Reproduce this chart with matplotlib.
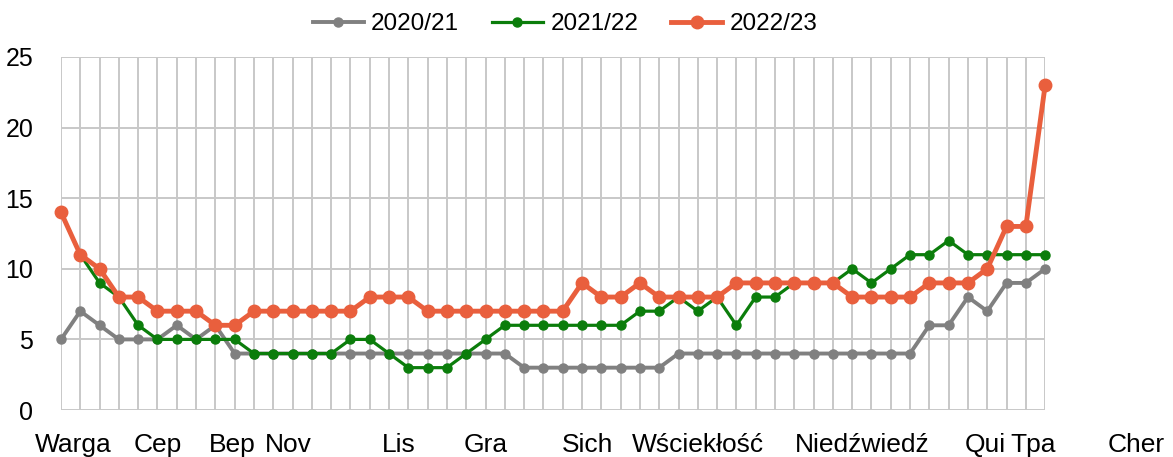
import matplotlib.pyplot as plt
import numpy as np

plt.rcParams['font.family'] = ['Liberation Sans', 'DejaVu Sans']

# weekly values, 52 weeks
s2020 = [5, 7, 6, 5, 5, 5, 6, 5, 6, 4, 4, 4, 4, 4, 4, 4, 4, 4, 4, 4,
         4, 4, 4, 4, 3, 3, 3, 3, 3, 3, 3, 3, 4, 4, 4, 4, 4, 4, 4, 4,
         4, 4, 4, 4, 4, 6, 6, 8, 7, 9, 9, 10]
s2021 = [14, 11, 9, 8, 6, 5, 5, 5, 5, 5, 4, 4, 4, 4, 4, 5, 5, 4, 3, 3,
         3, 4, 5, 6, 6, 6, 6, 6, 6, 6, 7, 7, 8, 7, 8, 6, 8, 8, 9, 9,
         9, 10, 9, 10, 11, 11, 12, 11, 11, 11, 11, 11]
s2022 = [14, 11, 10, 8, 8, 7, 7, 7, 6, 6, 7, 7, 7, 7, 7, 7, 8, 8, 8, 7,
         7, 7, 7, 7, 7, 7, 7, 9, 8, 8, 9, 8, 8, 8, 8, 9, 9, 9, 9, 9,
         9, 8, 8, 8, 8, 9, 9, 9, 10, 13, 13, 23]

month_labels = ['Warga', 'Cep', 'Bep', 'Nov', 'Lis', 'Gra', 'Sich',
                'Wściekłość', 'Niedźwiedź', 'Qui', 'Tpa', 'Cher']
label_pos = [0.62, 5.0, 8.9, 11.8, 17.5, 22.0, 27.3, 33.0, 41.5, 47.9, 50.4, 55.7]

weeks = np.arange(len(s2022))

fig = plt.figure(figsize=(11.73, 4.57), dpi=100)
ax = fig.add_axes([0.052, 0.1028, 0.839, 0.7725])

ax.plot(weeks, s2020, color='#808080', lw=2.8, marker='o', ms=6.5,
        label='2020/21', clip_on=False, zorder=3)
ax.plot(weeks, s2021, color='#0b7d0b', lw=2.3, marker='o', ms=6.5,
        label='2021/22', clip_on=False, zorder=4)
ax.plot(weeks, s2022, color='#e95f3d', lw=3.5, marker='o', ms=9,
        label='2022/23', clip_on=False, zorder=5)

ax.set_xlim(0, len(weeks) - 1)
ax.set_ylim(0, 25)
ax.set_yticks([0, 5, 10, 15, 20, 25])
ax.set_xticks(weeks)
ax.set_xticklabels([])
ax.tick_params(axis='both', length=0, labelsize=18)
ax.tick_params(axis='y', pad=20)
ax.grid(True, color='#c8c8c8', lw=1.4)
ax.set_axisbelow(True)
for sp in ax.spines.values():
    sp.set_visible(False)

trans = ax.get_xaxis_transform()
for lab, xp in zip(month_labels, label_pos):
    ax.text(xp, -0.1, lab, transform=trans, ha='center', va='center',
            fontsize=19, clip_on=False)

fig.legend(loc='center', bbox_to_anchor=(565 / 1173, 1 - 24 / 457), ncol=3,
           frameon=False, fontsize=17.5, handlelength=2.1, handletextpad=0.3,
           columnspacing=1.36)

fig.savefig('out.png', dpi=100)
